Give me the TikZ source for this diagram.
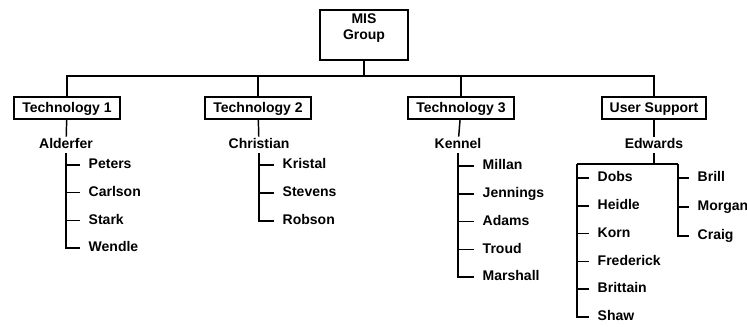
\documentclass[tikz,border=0pt]{standalone}
\usepackage{fontspec}
\setmainfont{Liberation Sans}
\usepackage{tikz}
\usetikzlibrary{positioning, calc}

\begin{document}
\begin{tikzpicture}[
        x=0.75pt, y=-0.75pt,
        font=\fontsize{10.5}{12}\selectfont\bfseries,
        line width=1.1pt,
        unit/.style={draw, line width=1.5pt, inner xsep=6pt, minimum height=16.5pt, text height=7.5pt, text depth=1pt},
        head/.style={inner sep=1pt, text height=7.5pt, text depth=2pt},
        member/.style={inner xsep=6pt, inner ysep=1pt, text height=7.5pt, text depth=2pt},
    ]
    \useasboundingbox (0,0) rectangle (747,327);

    % ---- top ----
    \node[unit, align=center, minimum width=66pt, minimum height=38pt] (mis) at (364,35) {MIS\\Group};
    \coordinate (bar) at (364,76);

    % ---- departments ----
    \node[unit] (tech1) at (67,108) {Technology 1};
    \node[unit] (tech2) at (258,108) {Technology 2};
    \node[unit] (tech3) at (461,108) {Technology 3};
    \node[unit] (support) at (654,108) {User Support};

    \draw (mis) -- (bar);
    \draw (tech1.north) |- (bar) -| (support.north);
    \draw (tech2.north) -- (tech2.north |- bar);
    \draw (tech3.north) -- (tech3.north |- bar);

    % ---- leaders ----
    \node[head] (alderfer) at (66,145) {Alderfer};
    \node[head] (christian) at (259,145) {Christian};
    \node[head] (kennel) at (458,145) {Kennel};
    \node[head] (edwards) at (654,145) {Edwards};

    \draw (tech1) -- (alderfer);
    \draw (tech2) -- (christian);
    \draw (tech3) -- (kennel);
    \draw (support) -- (edwards);

    % ---- Technology 1 staff ----
    \foreach \name [count=\i] in {Peters,Carlson,Stark,Wendle}
        \node[member, anchor=west] (a\i) at (80,{165+27.7*(\i-1)}) {\name};
    \draw (alderfer.south) |- (a4.west);
    \foreach \i in {1,2,3}
        \draw (alderfer.south |- a\i.west) -- (a\i.west);

    % ---- Technology 2 staff ----
    \foreach \name [count=\i] in {Kristal,Stevens,Robson}
        \node[member, anchor=west] (c\i) at (274,{165+28*(\i-1)}) {\name};
    \draw (christian.south) |- (c3.west);
    \foreach \i in {1,2}
        \draw (christian.south |- c\i.west) -- (c\i.west);

    % ---- Technology 3 staff ----
    \foreach \name [count=\i] in {Millan,Jennings,Adams,Troud,Marshall}
        \node[member, anchor=west] (k\i) at (474,{166+27.8*(\i-1)}) {\name};
    \draw (kennel.south) |- (k5.west);
    \foreach \i in {1,...,4}
        \draw (kennel.south |- k\i.west) -- (k\i.west);

    % ---- User Support staff ----
    \coordinate (eleft) at (577,164);
    \coordinate (eright) at (678,164);
    \draw (edwards.south) -- (edwards.south |- eleft);
    \draw (eleft) -- (eright);

    \foreach \name [count=\i] in {Dobs,Heidle,Korn,Frederick,Brittain,Shaw}
        \node[member, anchor=west] (e\i) at (589,{178+27.8*(\i-1)}) {\name};
    \draw (eleft) |- (e6.west);
    \foreach \i in {1,...,5}
        \draw (eleft |- e\i.west) -- (e\i.west);

    \foreach \name [count=\i] in {Brill,Morgan,Craig}
        \node[member, anchor=west] (r\i) at (689,{178+29*(\i-1)}) {\name};
    \draw (eright) |- (r3.west);
    \foreach \i in {1,2}
        \draw (eright |- r\i.west) -- (r\i.west);
\end{tikzpicture}
\end{document}
